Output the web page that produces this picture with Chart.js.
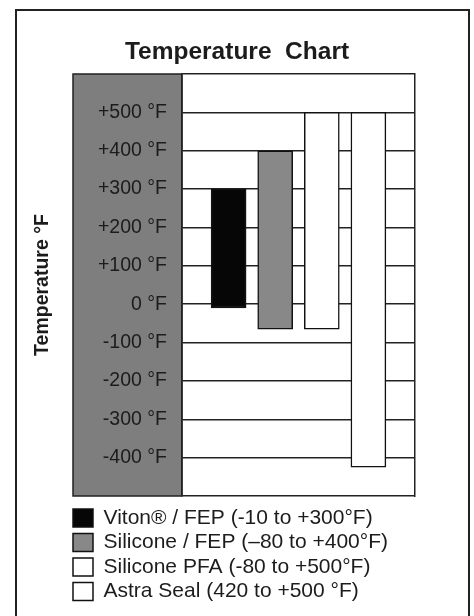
<!DOCTYPE html>
<html>
<head>
<meta charset="utf-8">
<script src="https://cdn.jsdelivr.net/npm/chart.js@4"></script>
<style>
  html, body { margin: 0; padding: 0; background: #fff; }
  #wrap { width: 474px; height: 616px; position: relative; }
</style>
</head>
<body>
<div id="wrap"><canvas id="myChart"></canvas></div>
<script>
const categories = ['Viton® / FEP', 'Silicone / FEP', 'Silicone PFA', 'Astra Seal']
const lows = [-10, -65, -65, -425]
const highs = [300, 400, 500, 500]
const legendLabels = [
  'Viton® / FEP (-10 to +300°F)',
  'Silicone / FEP (–80 to +400°F)',
  'Silicone PFA (-80 to +500°F)',
  'Astra Seal (420 to +500 °F)',
]
const fills = ['#060606', '#888888', '#ffffff', '#ffffff']
const tickValues = [500, 400, 300, 200, 100, 0, -100, -200, -300, -400]
const tickLabels = ['+500 °F', '+400 °F', '+300 °F', '+200 °F', '+100 °F', '0 °F', '-100 °F', '-200 °F', '-300 °F', '-400 °F']

const font = 'Liberation Sans, Arial, sans-serif'
const ink = '#1c1c1c'

// empty slot at each end so the four bars sit where they do in the scan
const slots = [''].concat(categories, [''])

const datasets = categories.map((c, i) => ({
  label: legendLabels[i],
  data: [{ x: c, y: [lows[i], highs[i]] }],
  backgroundColor: fills[i],
  borderColor: '#111',
  borderWidth: 1.5,
  borderSkipped: false,
  barThickness: 35,
  grouped: false,
}))

// grey label column and the outer frame of the scan
const paperPlugin = {
  id: 'paper',
  beforeDraw(chart) {
    const { ctx, chartArea } = chart
    ctx.save()
    ctx.fillStyle = '#7e7e7e'
    ctx.fillRect(73, chartArea.top, chartArea.left - 73, chartArea.bottom - chartArea.top)
    ctx.strokeStyle = '#222'
    ctx.lineWidth = 1.5
    ctx.strokeRect(73, chartArea.top, chartArea.left - 73, chartArea.bottom - chartArea.top)
    ctx.restore()
  },
  afterLayout(chart) {
    chart.legend.left = 69.5
  },
  afterDraw(chart) {
    const { ctx } = chart
    ctx.save()
    ctx.strokeStyle = '#222'
    ctx.lineWidth = 2
    ctx.beginPath()
    ctx.moveTo(16, 616)
    ctx.lineTo(16, 10)
    ctx.lineTo(469, 10)
    ctx.lineTo(469, 616)
    ctx.stroke()
    ctx.restore()
  },
}

const config = {
  type: 'bar',
  data: { labels: slots, datasets: datasets },
  options: {
    responsive: true,
    maintainAspectRatio: false,
    animation: false,
    layout: { padding: { top: 0, left: 0, right: 0, bottom: 4 } },
    scales: {
      x: {
        offset: false,
        afterFit: (scale) => { scale.height = 8 },
        ticks: { display: false },
        grid: { display: false },
        border: { display: false },
      },
      y: {
        min: -500,
        max: 600,
        afterFit: (scale) => { scale.width = 182 },
        ticks: {
          stepSize: 100,
          padding: 15,
          color: ink,
          font: { family: font, size: 19.5 },
          callback: (v) => {
            const k = tickValues.indexOf(v)
            return k < 0 ? '' : tickLabels[k]
          },
        },
        grid: { color: '#222', lineWidth: 1.5, drawTicks: false },
        border: { display: true, color: '#222', width: 1.5 },
        title: {
          display: true,
          text: 'Temperature °F',
          color: ink,
          font: { family: font, size: 19.5, weight: 'bold' },
          padding: { top: 31, bottom: 0 },
        },
      },
      y2: {
        position: 'right',
        min: -500,
        max: 600,
        afterFit: (scale) => { scale.width = 59 },
        ticks: { display: false },
        grid: { display: false },
        border: { display: true, color: '#222', width: 1.5 },
      },
    },
    plugins: {
      title: {
        display: true,
        text: 'Temperature  Chart',
        color: ink,
        font: { family: font, size: 24.5, weight: 'bold' },
        padding: { top: 38, bottom: 6.6 },
      },
      legend: {
        position: 'bottom',
        align: 'start',
        labels: {
          boxWidth: 20,
          boxHeight: 18,
          padding: 3.5,
          color: ink,
          font: { family: font, size: 21 },
        },
      },
      tooltip: { enabled: false },
    },
  },
  plugins: [paperPlugin],
}

var myChart = new Chart(document.getElementById('myChart'), config)
</script>
</body>
</html>
